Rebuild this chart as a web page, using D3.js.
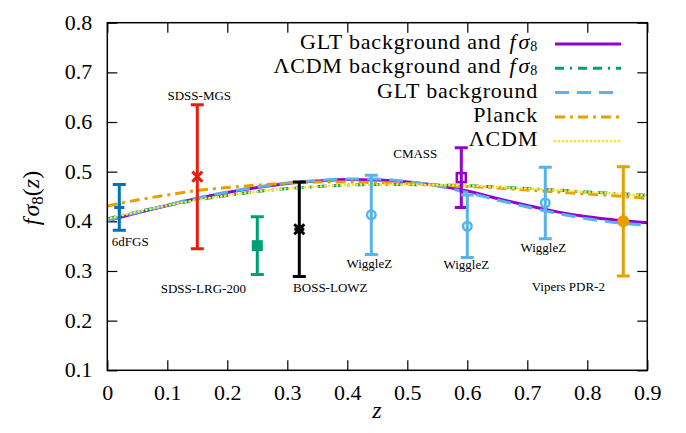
<!DOCTYPE html>
<html>
<head>
<meta charset="utf-8">
<script src="https://cdn.jsdelivr.net/npm/d3@7"></script>
<style>
  html, body { margin: 0; padding: 0; background: #fff; }
  svg, svg text { font-family: "Liberation Serif", "Times New Roman", serif !important; }
  svg { display: block; }
</style>
</head>
<body>
<svg id="chart" width="686" height="433"></svg>
<script>
// Redshift grid on which the model curves are sampled
const zGrid = [0, 0.05, 0.1, 0.15, 0.2, 0.25, 0.3, 0.35, 0.4, 0.45, 0.5, 0.55, 0.6, 0.65, 0.7, 0.75, 0.8, 0.85, 0.9];

// f sigma_8(z) predictions
const gltFull       = [0.401, 0.417, 0.432, 0.446, 0.458, 0.468, 0.476, 0.481, 0.484, 0.483, 0.479, 0.472, 0.461, 0.446, 0.432, 0.419, 0.409, 0.402, 0.397];
const lcdmFull      = [0.405, 0.419, 0.432, 0.443, 0.452, 0.460, 0.466, 0.470, 0.473, 0.474, 0.474, 0.473, 0.472, 0.469, 0.466, 0.463, 0.459, 0.456, 0.452];
const gltBackground = [0.402, 0.418, 0.433, 0.447, 0.459, 0.469, 0.477, 0.482, 0.485, 0.485, 0.480, 0.471, 0.458, 0.443, 0.429, 0.416, 0.405, 0.397, 0.392];
const planck        = [0.431, 0.443, 0.453, 0.462, 0.468, 0.473, 0.477, 0.479, 0.479, 0.478, 0.476, 0.473, 0.470, 0.467, 0.463, 0.459, 0.455, 0.451, 0.446];
const lcdm          = [0.405, 0.419, 0.432, 0.443, 0.452, 0.460, 0.466, 0.470, 0.473, 0.474, 0.474, 0.473, 0.472, 0.469, 0.466, 0.463, 0.459, 0.456, 0.452];

// Growth-rate measurements
const surveys   = ["6dFGS", "SDSS-MGS", "SDSS-LRG-200", "BOSS-LOWZ", "WiggleZ", "CMASS", "WiggleZ", "WiggleZ", "Vipers PDR-2"];
const surveyZ   = [0.02, 0.15, 0.25, 0.32, 0.44, 0.59, 0.60, 0.73, 0.86];
const surveyF   = [0.428, 0.490, 0.351, 0.384, 0.413, 0.488, 0.390, 0.437, 0.400];
const surveyErr = [0.046, 0.145, 0.058, 0.095, 0.080, 0.060, 0.063, 0.072, 0.110];

// Axis ticks
const xTicks = [0, 0.1, 0.2, 0.3, 0.4, 0.5, 0.6, 0.7, 0.8, 0.9];
const yTicks = [0.1, 0.2, 0.3, 0.4, 0.5, 0.6, 0.7, 0.8];

// ---- styling ----
const SERIF = "Liberation Serif, Times New Roman, serif";
const DOTTED = "0.01,4";
const curveStyles = [
  { name: "GLT background and",  math: true,  values: gltFull,       color: "#9400d3", dash: null,          width: 3 },
  { name: "ΛCDM background and", math: true,  values: lcdmFull,      color: "#009e73", dash: "9,6,2,6,9,6", width: 3 },
  { name: "GLT background",      math: false, values: gltBackground, color: "#56b4e9", dash: "14,8",        width: 3 },
  { name: "Planck",              math: false, values: planck,        color: "#e69f00", dash: "10,5,3,5",    width: 3 },
  { name: "ΛCDM",                math: false, values: lcdm,          color: "#f0e442", dash: DOTTED,        width: 2.8 }
];
const surveyStyles = [
  { color: "#0072b2", marker: "plus" },
  { color: "#e51e10", marker: "cross" },
  { color: "#009e73", marker: "fsquare" },
  { color: "#000000", marker: "star" },
  { color: "#56b4e9", marker: "ocircle" },
  { color: "#9400d3", marker: "osquare" },
  { color: "#56b4e9", marker: "ocircle" },
  { color: "#56b4e9", marker: "ocircle" },
  { color: "#e69f00", marker: "fcircle" }
];
// label placement relative to each measurement (pixels)
const labelOffsets = [[11, 39], [2, -77], [-54, 47], [31, 63], [-2, 53], [-46, -20], [-1, 43], [-2, 49], [-55, 70]];

const svg = d3.select("#chart");
const plotLeft = 107.3, plotRight = 647.3, plotTop = 22.7, plotBottom = 370.3;

const x = d3.scaleLinear().domain([0, 0.9]).range([plotLeft, plotRight]);
const y = d3.scaleLinear().domain([0.1, 0.8]).range([plotBottom, plotTop]);

const fmt = d => d === 0 ? "0" : d3.format(".1f")(d);

// clip for the model curves
svg.append("defs").append("clipPath").attr("id", "plot-clip")
  .append("rect").attr("x", plotLeft).attr("y", plotTop)
  .attr("width", plotRight - plotLeft).attr("height", plotBottom - plotTop);

// ---- axes (ticks point inward, mirrored on the opposite sides) ----
const axisFont = 22;
const gx = svg.append("g").attr("transform", `translate(0,${plotBottom})`)
  .call(d3.axisBottom(x).tickValues(xTicks).tickSizeInner(-10).tickSizeOuter(0).tickFormat(fmt));
gx.selectAll("text").attr("y", 30).attr("dy", null).attr("fill", "#000")
  .style("font-family", SERIF).style("font-size", axisFont + "px");
const gxTop = svg.append("g").attr("transform", `translate(0,${plotTop})`)
  .call(d3.axisTop(x).tickValues(xTicks).tickSizeInner(-10).tickSizeOuter(0).tickFormat(""));
const gy = svg.append("g").attr("transform", `translate(${plotLeft},0)`)
  .call(d3.axisLeft(y).tickValues(yTicks).tickSizeInner(-10).tickSizeOuter(0).tickFormat(fmt));
gy.selectAll("text").attr("x", -15).attr("dy", "0.3em").attr("fill", "#000")
  .style("font-family", SERIF).style("font-size", axisFont + "px");
const gyRight = svg.append("g").attr("transform", `translate(${plotRight},0)`)
  .call(d3.axisRight(y).tickValues(yTicks).tickSizeInner(-10).tickSizeOuter(0).tickFormat(""));
[gx, gxTop, gy, gyRight].forEach(g => {
  g.attr("font-family", SERIF);
  g.select(".domain").remove();
  g.selectAll(".tick line").attr("stroke", "#000").attr("stroke-width", 1.2);
});

// ---- model curves ----
const line = d3.line().x((d, i) => x(zGrid[i])).y(d => y(d)).curve(d3.curveMonotoneX);
const curves = svg.append("g").attr("clip-path", "url(#plot-clip)");
curveStyles.forEach(s => {
  curves.append("path")
    .attr("d", line(s.values))
    .attr("fill", "none")
    .attr("stroke", s.color)
    .attr("stroke-width", s.width)
    .attr("stroke-dasharray", s.dash)
    .attr("stroke-linecap", s.dash === DOTTED ? "round" : "butt");
});

// ---- measurements with error bars ----
function drawMarker(g, type, cx, cy, color) {
  const r = 5;
  if (type === "plus") {
    g.append("path").attr("d", `M${cx - r},${cy}H${cx + r}M${cx},${cy - r}V${cy + r}`)
      .attr("stroke", color).attr("stroke-width", 3).attr("fill", "none");
  } else if (type === "cross") {
    g.append("path").attr("d", `M${cx - r},${cy - r}L${cx + r},${cy + r}M${cx - r},${cy + r}L${cx + r},${cy - r}`)
      .attr("stroke", color).attr("stroke-width", 3).attr("fill", "none");
  } else if (type === "star") {
    g.append("path").attr("d", `M${cx - r},${cy - r}L${cx + r},${cy + r}M${cx - r},${cy + r}L${cx + r},${cy - r}M${cx - r},${cy}H${cx + r}M${cx},${cy - r}V${cy + r}`)
      .attr("stroke", color).attr("stroke-width", 3).attr("fill", "none");
  } else if (type === "fsquare") {
    g.append("rect").attr("x", cx - 5.5).attr("y", cy - 5.5).attr("width", 11).attr("height", 11).attr("fill", color);
  } else if (type === "osquare") {
    g.append("rect").attr("x", cx - 4.5).attr("y", cy - 4.5).attr("width", 9).attr("height", 9)
      .attr("fill", "none").attr("stroke", color).attr("stroke-width", 2.5);
  } else if (type === "ocircle") {
    g.append("circle").attr("cx", cx).attr("cy", cy).attr("r", 4.3)
      .attr("fill", "none").attr("stroke", color).attr("stroke-width", 2.5);
  } else if (type === "fcircle") {
    g.append("circle").attr("cx", cx).attr("cy", cy).attr("r", 6).attr("fill", color);
  }
}

const pts = svg.append("g");
surveys.forEach((name, i) => {
  const st = surveyStyles[i];
  const cx = x(surveyZ[i]);
  const cy = y(surveyF[i]);
  const y0 = y(surveyF[i] - surveyErr[i]);
  const y1 = y(surveyF[i] + surveyErr[i]);
  const g = pts.append("g");
  g.append("path")
    .attr("d", `M${cx},${y0}V${y1}M${cx - 6.5},${y0}H${cx + 6.5}M${cx - 6.5},${y1}H${cx + 6.5}`)
    .attr("stroke", st.color).attr("stroke-width", 3).attr("fill", "none");
  drawMarker(g, st.marker, cx, cy, st.color);
  const off = labelOffsets[i];
  svg.append("text")
    .attr("x", cx + off[0]).attr("y", cy + off[1])
    .attr("text-anchor", "middle").attr("font-size", 13).attr("fill", "#000")
    .text(name);
});

// ---- frame ----
svg.append("rect").attr("x", plotLeft).attr("y", plotTop)
  .attr("width", plotRight - plotLeft).attr("height", plotBottom - plotTop)
  .attr("fill", "none").attr("stroke", "#000").attr("stroke-width", 1.5);

// ---- legend ----
const legend = svg.append("g");
const legTextRight = 538, legLineX0 = 555, legLineX1 = 621, legRow0 = 49, legStep = 24.3;
curveStyles.forEach((s, i) => {
  const by = legRow0 + i * legStep;
  const t = legend.append("text").attr("x", legTextRight).attr("y", by)
    .attr("text-anchor", "end").attr("font-size", 22).attr("letter-spacing", 0.8).attr("fill", "#000");
  t.append("tspan").text(s.name);
  if (s.math) {
    t.append("tspan").attr("font-style", "italic").attr("dx", 2).text(" f");
    t.append("tspan").attr("font-style", "italic").attr("dx", 2).text("σ");
    t.append("tspan").attr("font-size", 14).attr("dy", 1.5).text("8");
  }
  legend.append("line")
    .attr("x1", legLineX0).attr("x2", legLineX1).attr("y1", by - 5).attr("y2", by - 5)
    .attr("stroke", s.color).attr("stroke-width", s.width)
    .attr("stroke-dasharray", s.dash)
    .attr("stroke-linecap", s.dash === DOTTED ? "round" : "butt");
});

// ---- axis titles ----
svg.append("text").attr("x", 377).attr("y", 418).attr("text-anchor", "middle")
  .attr("font-size", 24).attr("font-style", "italic").text("z");

const yt = svg.append("text").attr("transform", "translate(39,198) rotate(-90)")
  .attr("text-anchor", "middle").attr("font-size", 24);
yt.append("tspan").attr("font-style", "italic").text("f");
yt.append("tspan").attr("font-style", "italic").attr("dx", 2).text("σ");
yt.append("tspan").attr("font-size", 17).attr("dy", 4).text("8");
yt.append("tspan").attr("dy", -4).text("(");
yt.append("tspan").attr("font-style", "italic").text("z");
yt.append("tspan").text(")");
</script>
</body>
</html>
